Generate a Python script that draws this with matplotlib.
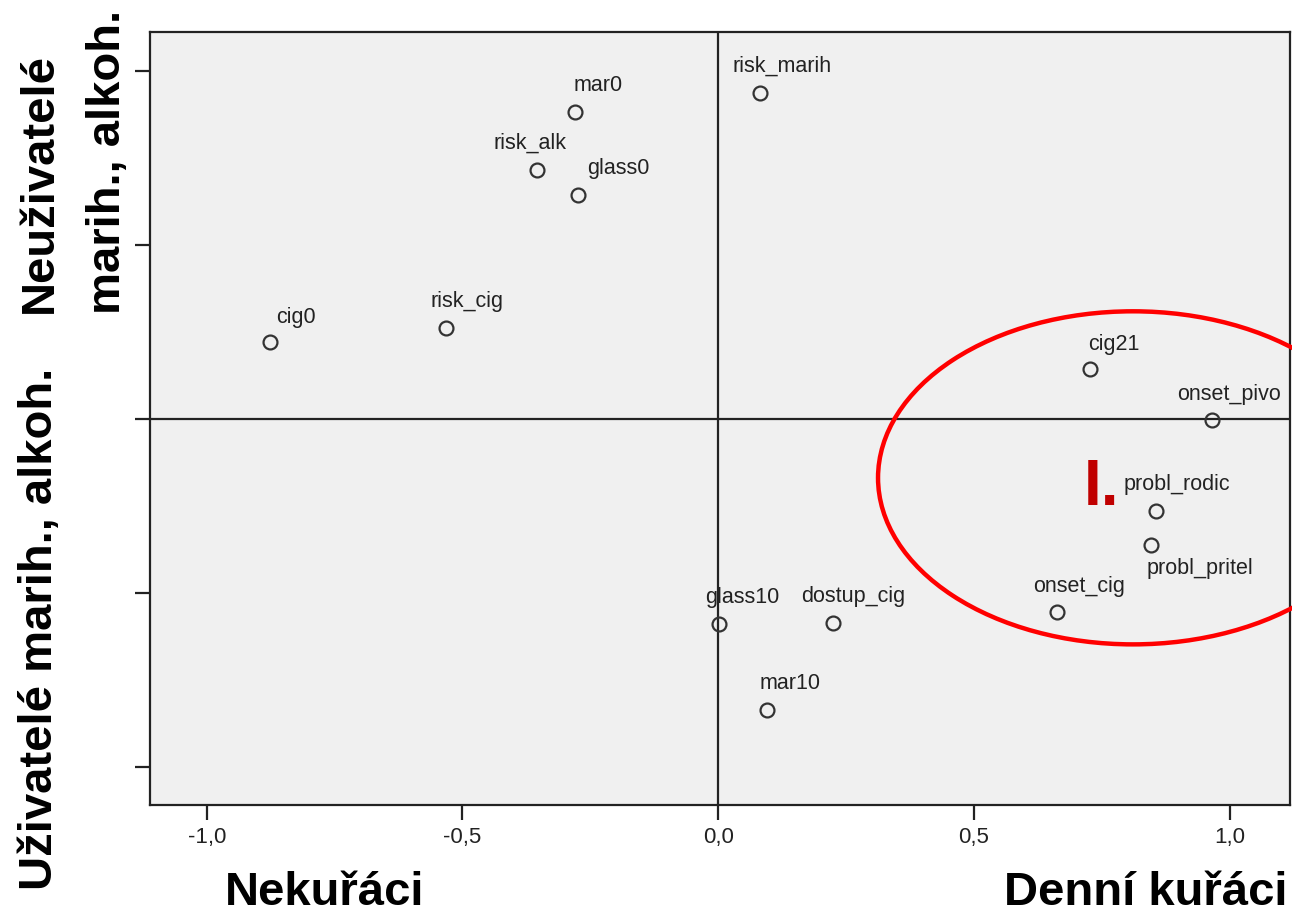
import matplotlib
matplotlib.use("Agg")
import matplotlib.pyplot as plt
from matplotlib.patches import Ellipse

# ---- data ----
labels = ["cig0", "risk_cig", "risk_alk", "mar0", "glass0", "risk_marih",
          "cig21", "onset_pivo", "probl_rodic", "probl_pritel", "onset_cig",
          "glass10", "dostup_cig", "mar10"]
x_vals = [-0.876, -0.532, -0.354, -0.280, -0.274, 0.082,
          0.727, 0.966, 0.856, 0.847, 0.663,
          0.002, 0.225, 0.096]
y_vals = [0.221, 0.261, 0.716, 0.882, 0.644, 0.937,
          0.144, -0.003, -0.264, -0.362, -0.555,
          -0.589, -0.586, -0.836]
x_ticks = [-1.0, -0.5, 0.0, 0.5, 1.0]
x_tick_labels = ["-1,0", "-0,5", "0,0", "0,5", "1,0"]
y_ticks = [-1.0, -0.5, 0.0, 0.5, 1.0]

# label offsets in pixels (dx, dy) relative to point, with alignment
label_style = {
    "cig0": (6, 14, "left", "bottom"),
    "risk_cig": (-16, 16, "left", "bottom"),
    "risk_alk": (-44, 16, "left", "bottom"),
    "mar0": (-1, 16, "left", "bottom"),
    "glass0": (9, 16, "left", "bottom"),
    "risk_marih": (-28, 16, "left", "bottom"),
    "cig21": (-2, 14, "left", "bottom"),
    "onset_pivo": (-35, 15, "left", "bottom"),
    "probl_rodic": (-32, 16, "left", "bottom"),
    "probl_pritel": (-5, -13, "left", "top"),
    "onset_cig": (-24, 15, "left", "bottom"),
    "glass10": (-14, 16, "left", "bottom"),
    "dostup_cig": (-32, 16, "left", "bottom"),
    "mar10": (-8, 16, "left", "bottom"),
}

plt.rcParams['font.family'] = ['Liberation Sans', 'DejaVu Sans']

fig = plt.figure(figsize=(12.92, 9.17), dpi=100)
ax = fig.add_axes([150/1292, 1 - 805/917, 1140/1292, 773/917])
ax.set_facecolor("#f0f0f0")

ax.set_xlim(-1.111, 1.118)
ax.set_ylim(-1.109, 1.112)

ax.axhline(0, color="#222222", lw=1.6, zorder=1)
ax.axvline(0, color="#222222", lw=1.6, zorder=1)

ax.plot(x_vals, y_vals, linestyle="none", marker="o", markersize=10,
        markerfacecolor="none", markeredgecolor="#333333", markeredgewidth=1.6,
        zorder=3)

for name, xv, yv in zip(labels, x_vals, y_vals):
    dx, dy, ha, va = label_style[name]
    ax.annotate(name, (xv, yv), xytext=(dx, dy), textcoords="offset pixels",
                ha=ha, va=va, fontsize=15.5, color="#222222", zorder=4)

ax.set_xticks(x_ticks)
ax.set_xticklabels(x_tick_labels, fontsize=16, color="#222222")
ax.set_yticks(y_ticks)
ax.set_yticklabels([])
ax.tick_params(axis="both", direction="out", length=11, width=1.6,
               color="#222222", pad=5)
for sp in ax.spines.values():
    sp.set_linewidth(1.6)
    sp.set_color("#222222")

# red ellipse (extends past the frame)
ell = Ellipse((0.811, -0.169), width=0.997, height=0.957, fill=False,
              edgecolor="#ff0000", linewidth=3.2, clip_on=False, zorder=5)
ax.add_patch(ell)
ax.text(0.715, -0.247, "I.", color="#c00000", fontsize=46, fontweight="bold",
        ha="left", va="baseline", zorder=5)

# axis descriptions
fig.text(225/1292, 1 - 915/917, "Nekuřáci", fontsize=34, fontweight="bold",
         ha="left", va="bottom")
fig.text(1287/1292, 1 - 915/917, "Denní kuřáci", fontsize=34, fontweight="bold",
         ha="right", va="bottom")
fig.text(40/1292, 1 - 890/917, "Uživatelé marih., alkoh.", fontsize=34,
         fontweight="bold", rotation=90, ha="center", va="bottom")
fig.text(40/1292, 1 - 313/917, "Neuživatelé", fontsize=34,
         fontweight="bold", rotation=90, ha="center", va="bottom")
fig.text(108/1292, 1 - 10/917, "marih., alkoh.", fontsize=34,
         fontweight="bold", rotation=90, ha="center", va="top")

fig.savefig("out.png", dpi=100)
